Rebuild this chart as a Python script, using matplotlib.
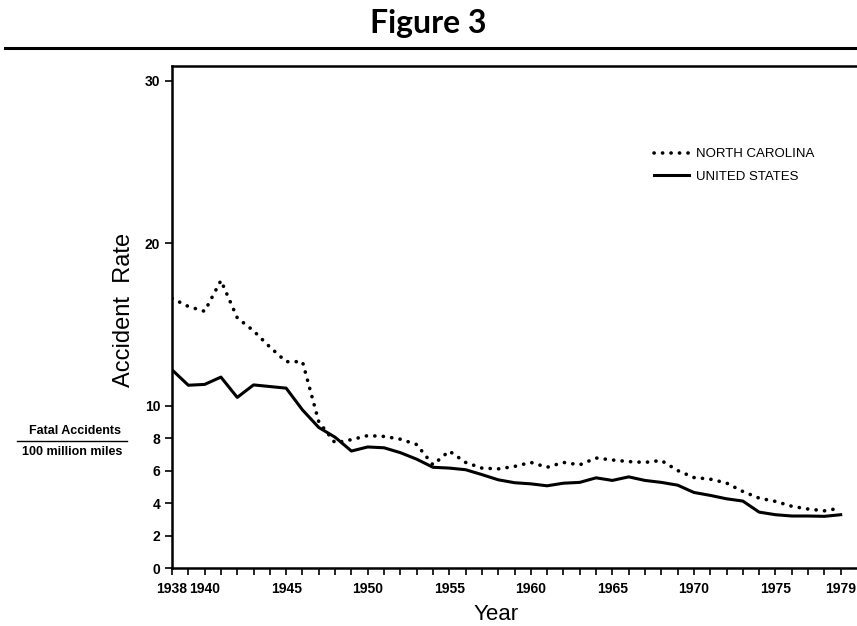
import matplotlib
matplotlib.use("Agg")
import matplotlib.pyplot as plt
from matplotlib.lines import Line2D

years = list(range(1938, 1980))

# fatal accidents per 100 million miles
north_carolina = [16.6, 16.1, 15.8, 17.7, 15.4, 14.6, 13.6, 12.7, 12.7, 9.0,
                  7.7, 7.9, 8.15, 8.1, 7.93, 7.6, 6.35, 7.2, 6.5, 6.15,
                  6.1, 6.25, 6.5, 6.2, 6.5, 6.35, 6.77, 6.65, 6.55, 6.5,
                  6.62, 6.0, 5.57, 5.47, 5.23, 4.71, 4.3, 4.1, 3.8, 3.63,
                  3.52, 3.69]
united_states = [12.2, 11.25, 11.3, 11.75, 10.5, 11.27, 11.17, 11.07, 9.73, 8.65,
                 8.05, 7.2, 7.45, 7.4, 7.1, 6.7, 6.2, 6.15, 6.05, 5.75,
                 5.43, 5.25, 5.18, 5.06, 5.22, 5.27, 5.55, 5.39, 5.61, 5.39,
                 5.27, 5.1, 4.65, 4.47, 4.26, 4.12, 3.44, 3.28, 3.2, 3.2,
                 3.18, 3.28]

x_labels = {1938: "1938", 1940: "1940", 1945: "1945", 1950: "1950", 1955: "1955",
            1960: "1960", 1965: "1965", 1970: "1970", 1975: "1975", 1979: "1979"}
y_ticks = [0, 2, 4, 6, 8, 10, 20, 30]

plt.rcParams['font.family'] = ['Liberation Sans', 'DejaVu Sans']

fig = plt.figure(figsize=(8.57, 6.26), dpi=100)
ax = fig.add_axes([172 / 857, 1 - 568 / 626, 1 - 172 / 857, (568 - 66) / 626])

ax.plot(years, north_carolina, color='black', lw=2.6,
        linestyle=(0, (0.05, 2.3)), dash_capstyle='round', label='NORTH CAROLINA')
ax.plot(years, united_states, color='black', lw=2.2, label='UNITED STATES')

ax.set_xlim(1938, 1980)
ax.set_ylim(0, 30.9)
ax.set_xticks(years)
ax.set_xticklabels([x_labels.get(y, "") for y in years])
ax.set_yticks(y_ticks)
ax.tick_params(axis='both', direction='out', length=5, width=1.2, labelsize=10)
ax.tick_params(axis='x', pad=5)
for lab in ax.get_xticklabels() + ax.get_yticklabels():
    lab.set_fontweight('bold')
ax.spines['right'].set_visible(False)
for s in ['left', 'bottom', 'top']:
    ax.spines[s].set_linewidth(1.8)

ax.set_xlabel("Year", fontsize=16, va='baseline', ha='center')
ax.xaxis.set_label_coords(0.473, -0.104)
ax.set_ylabel("Accident  Rate", fontsize=17, va='center', ha='center')
ax.yaxis.set_label_coords(-0.07, 0.514)

leg = ax.legend(loc='upper left', bbox_to_anchor=(0.686, 0.86), frameon=False,
                fontsize=9.5, handlelength=2.7, handletextpad=0.5, labelspacing=0.75)
for t in leg.get_texts():
    t.set_fontweight('medium')

# small units note left of the axis
fig.text(75 / 857, 1 - 431 / 626, "Fatal Accidents", ha='center', va='center',
         fontsize=9, fontweight='bold')
fig.text(72 / 857, 1 - 452 / 626, "100 million miles", ha='center', va='center',
         fontsize=9, fontweight='bold')
fig.add_artist(Line2D([17 / 857, 127 / 857], [1 - 441 / 626, 1 - 441 / 626],
                      color='black', lw=1))

fig.text(0.5, 1 - 24 / 626, "Figure 3", ha='center', va='center',
         fontsize=23, fontweight='bold', family=['Lato', 'DejaVu Sans'])
fig.add_artist(Line2D([5 / 857, 1.0], [1 - 48 / 626, 1 - 48 / 626],
                      color='black', lw=2.2))

fig.savefig("out.png", dpi=100)
